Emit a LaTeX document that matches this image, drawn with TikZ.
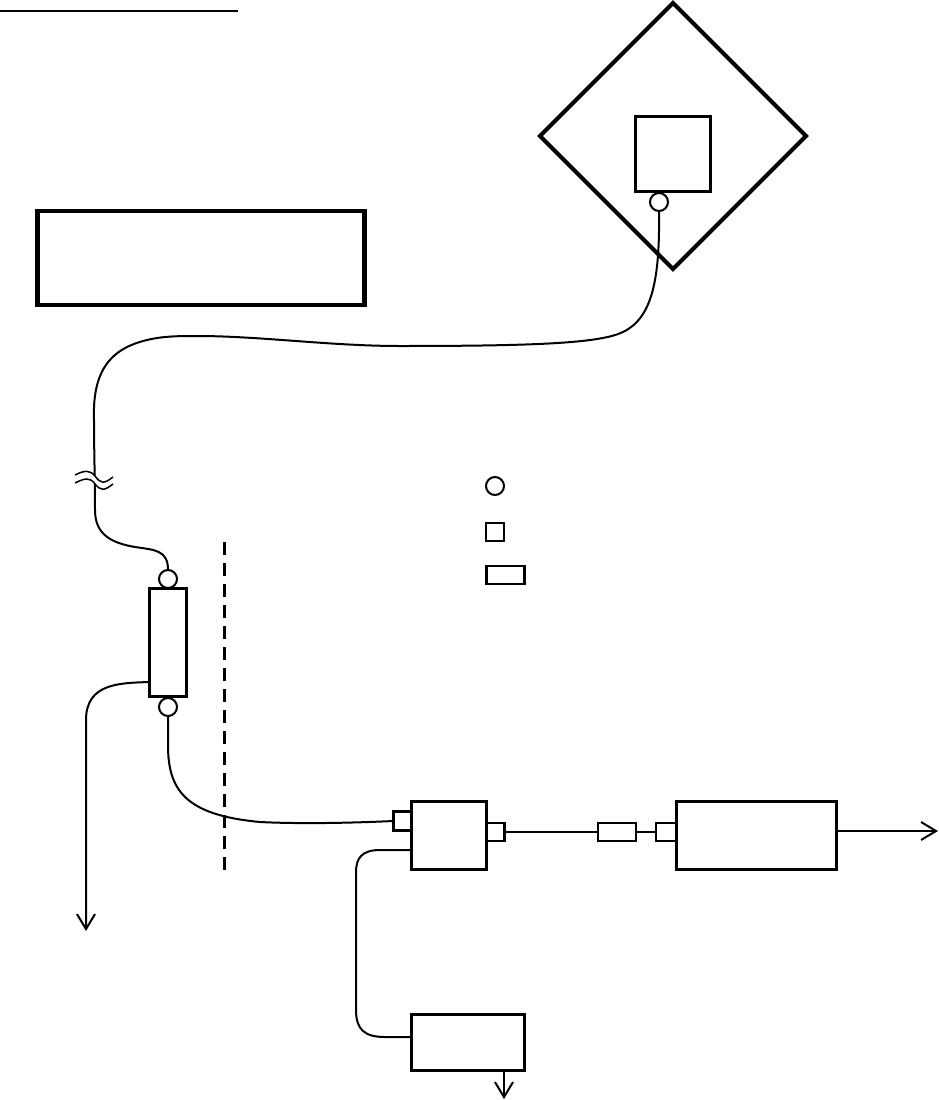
\documentclass[tikz,border=0pt]{standalone}
\usepackage{tikz}
\usetikzlibrary{arrows.meta,positioning,shapes.geometric}

\begin{document}
\begin{tikzpicture}[x=1pt,y=-1pt,>={Straight Barb[length=15pt,width=18pt]},
  every node/.style={inner sep=0pt,outer sep=0pt},
  cable/.style={line width=2pt},
  heavy box/.style={rectangle,draw,line width=3pt},
  thin box/.style={rectangle,draw,line width=2.2pt},
  port node/.style={circle,draw,fill=white,line width=2pt,minimum size=18pt}]
  \useasboundingbox (0,0) rectangle (938,1100);
  \node[diamond,draw,line width=4.2pt,minimum width=266pt,minimum height=266pt] (dish) at (673,136) {};
  \node[heavy box,minimum width=75pt,minimum height=75pt] (feed) at (673,154) {};
  \node[port node] (feedport) at (659,202) {};
  \node[rectangle,draw,line width=4.5pt,minimum width=327pt,minimum height=94pt] (title) at (201,258) {};
  \node[heavy box,minimum width=37pt,minimum height=108pt] (split) at (168,642) {};
  \node[port node] (splittop) [above=0pt of split] {};
  \node[port node] (splitbot) [below=2pt of split] {};
  \node[heavy box,minimum width=75pt,minimum height=68pt] (conv) at (449,835) {};
  \node[thin box,minimum width=18pt,minimum height=19pt] (convin) [left=0pt of conv,yshift=14pt] {};
  \node[thin box,minimum width=18pt,minimum height=18pt] (convout) [right=0pt of conv,yshift=3pt] {};
  \node[thin box,minimum width=38pt,minimum height=18pt] (atten) at (617,832) {};
  \node[heavy box,minimum width=160pt,minimum height=68pt] (recv) at (756,835) {};
  \node[thin box,minimum width=20pt,minimum height=18pt] (recvin) [left=0pt of recv,yshift=3pt] {};
  \node[heavy box,minimum width=113pt,minimum height=56pt] (meter) at (467.5,1042) {};
  % legend
  \node[port node] (keycircle) at (495,486) {};
  \node[thin box,minimum size=18pt] (keysquare) at (495,532) {};
  \node[thin box,minimum width=38pt,minimum height=18pt] (keyrect) at (505.5,575) {};

  \coordinate (splitout) at (split.west |- 0,682);
  \coordinate (convin2) at (conv.west |- 0,850);
  \coordinate (meterin) at (meter.west |- 0,1037);
  \coordinate (ifend) at (86,931);
  \coordinate (recvend) at (938,831);
  \coordinate (meterend) at (504,1099);
  \coordinate (fencetop) at (224,542);
  \coordinate (fencebot) at (224,870);
  \coordinate (ruleleft) at (0,11);
  \coordinate (ruleright) at (238,11);

  \draw[line width=2.4pt] (ruleleft) -- (ruleright);
  \draw[line width=3pt,dash pattern=on 13pt off 8pt] (fencetop) -- (fencebot);

  \draw[cable] (feedport.south) .. controls (660,280) and (652,318) .. (623,332)
    .. controls (600,343) and (540,346) .. (400,346)
    .. controls (330,346) and (260,336) .. (197,336)
    .. controls (184,336) and (170,336) .. (157,338)
    .. controls (115,345) and (92,365) .. (94,420)
    .. controls (94,450) and (95,480) .. (95,510)
    .. controls (95,535) and (112,543) .. (135,547)
    .. controls (155,550) and (168,550) .. (splittop.north);
  % break in the long cable
  \fill[white] (75,475) .. controls (85,470) and (90,470) .. (95,476)
    .. controls (101,484) and (104,484) .. (113,477) -- (113,484)
    .. controls (104,491) and (101,491) .. (95,484)
    .. controls (90,477) and (85,478) .. (75,483) -- cycle;
  \draw[line width=1.5pt] (75,475) .. controls (85,470) and (90,470) .. (95,476)
    .. controls (101,484) and (104,484) .. (113,477);
  \draw[line width=1.5pt] (75,483) .. controls (85,478) and (90,477) .. (95,484)
    .. controls (101,491) and (104,491) .. (113,484);

  \draw[cable,->] (splitout) .. controls (120,683) and (86,683) .. (86,720) -- (ifend);
  \draw[cable] (splitbot.south) -- (168,745) .. controls (168,790) and (185,815) .. (260,822)
    .. controls (300,824) and (350,823) .. (convin.west);
  \draw[cable] (convin2) -- (380,850) .. controls (362,850) and (356,858) .. (356,872)
    -- (356,1010) .. controls (356,1030) and (365,1037) .. (385,1037) -- (meterin);
  \draw[cable] (convout.east) -- (atten.west);
  \draw[cable] (atten.east) -- (recvin.west);
  \draw[cable,->] (recv.east |- recvend) -- (recvend);
  \draw[cable,->] (meter.south -| meterend) -- (meterend);
\end{tikzpicture}
\end{document}
